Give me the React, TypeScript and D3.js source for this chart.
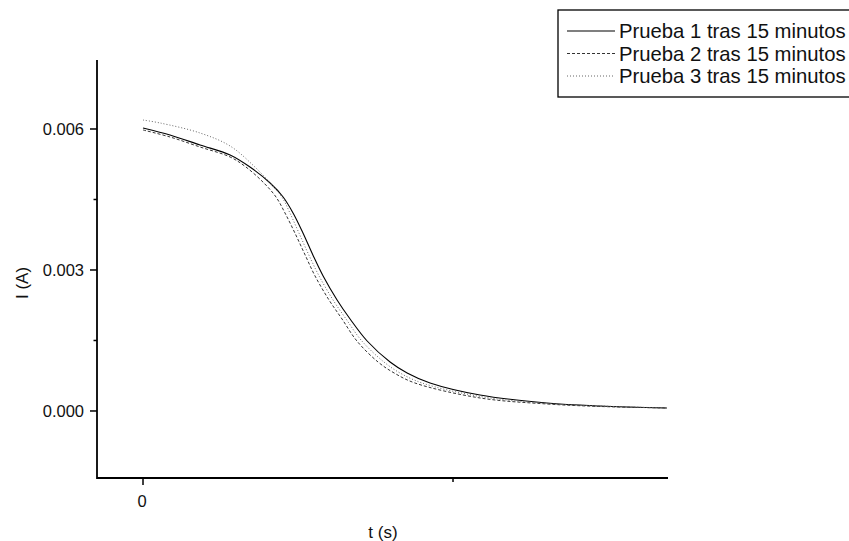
import * as d3 from 'd3';

// ---------------------------------------------------------------------------
// Data
// ---------------------------------------------------------------------------

const T_1 = [0, 8.7, 18.4, 28.1, 34.5, 41, 45.2, 48.4, 51.6, 54.8, 58.1, 62.6, 66.8, 72.3, 79.7, 85.2, 92.6, 108.7, 130.3, 147.4, 169];
const PRUEBA_1 = [
  0.006021, 0.005872, 0.00566, 0.005447, 0.005191, 0.004851, 0.004553, 0.004213, 0.003787, 0.003319,
  0.002872, 0.002362, 0.001957, 0.001489, 0.001043, 0.000809, 0.000596, 0.00034, 0.00017, 0.000106, 0.000064,
];

const T_2 = [0, 8.7, 18.4, 28.1, 33.2, 39, 42.9, 45.8, 49, 52.3, 55.5, 60, 64.2, 69, 75.8, 81, 87.7, 108.7, 130.3, 147.4, 169];
const PRUEBA_2 = [
  0.005979, 0.00583, 0.005617, 0.005404, 0.005191, 0.004851, 0.004553, 0.004213, 0.003787, 0.003319,
  0.002872, 0.002362, 0.001957, 0.001489, 0.001043, 0.000809, 0.000596, 0.000277, 0.000149, 0.000096, 0.000064,
];

const T_3 = [0, 5.5, 18.4, 28.1, 36.1, 41, 44.8, 47.4, 50.3, 53.5, 56.8, 61.3, 65.5, 70.6, 77.7, 82.9, 90, 108.7, 130.3, 147.4, 169];
const PRUEBA_3 = [
  0.006191, 0.006128, 0.005915, 0.005638, 0.005191, 0.004851, 0.004553, 0.004213, 0.003787, 0.003319,
  0.002872, 0.002362, 0.001957, 0.001489, 0.001043, 0.000809, 0.000596, 0.000309, 0.00016, 0.000106, 0.000064,
];

const SERIES_NAMES = ['Prueba 1 tras 15 minutos', 'Prueba 2 tras 15 minutos', 'Prueba 3 tras 15 minutos'];
const Y_TICKS = [0, 0.003, 0.006];
const Y_MINOR = [0.0015, 0.0045];
const X_TICKS = [0];
const X_MINOR = [100];

// ---------------------------------------------------------------------------
// Layout
// ---------------------------------------------------------------------------

const W = 849;
const H = 541;
const FONT = 'Arial, "Liberation Sans", sans-serif';
const STYLES = [
  { dash: 'none', color: '#000', width: 1.1 },
  { dash: '3,2', color: '#333', width: 1 },
  { dash: '1,2', color: '#666', width: 1 },
];

export default function App() {
  const x = d3.scaleLinear().domain([-14.84, 169.35]).range([97, 668]);
  const y = d3.scaleLinear().domain([-0.001426, 0.007468]).range([478, 60]);

  const series = [
    { t: T_1, v: PRUEBA_1 },
    { t: T_2, v: PRUEBA_2 },
    { t: T_3, v: PRUEBA_3 },
  ];

  const path = (t: number[], v: number[]) =>
    d3
      .line<number>()
      .x((_d, i) => x(t[i]))
      .y((d) => y(d))
      .curve(d3.curveCatmullRom.alpha(0.5))(v) ?? '';

  return (
    <svg
      width={W}
      height={H}
      style={{ position: 'absolute', left: 0, top: 0, background: '#fff' }}
      fontFamily={FONT}
    >
      {/* curves */}
      {series.map((s, i) => (
        <path
          key={i}
          d={path(s.t, s.v)}
          fill="none"
          stroke={STYLES[i].color}
          strokeWidth={STYLES[i].width}
          strokeDasharray={STYLES[i].dash}
        />
      ))}

      {/* axes */}
      <line x1={x.range()[0]} x2={x.range()[0]} y1={y.range()[1]} y2={y.range()[0] + 1} stroke="#000" strokeWidth={1.8} />
      <line x1={x.range()[0]} x2={x.range()[1]} y1={y.range()[0]} y2={y.range()[0]} stroke="#000" strokeWidth={1.8} />

      {Y_TICKS.map((t) => (
        <g key={t}>
          <line x1={90} x2={97} y1={y(t)} y2={y(t)} stroke="#000" strokeWidth={1.5} />
          <text x={84} y={y(t)} dy="0.35em" textAnchor="end" fontSize={16.5} fill="#111">
            {d3.format('.3f')(t)}
          </text>
        </g>
      ))}
      {Y_MINOR.map((t) => (
        <line key={t} x1={93.5} x2={97} y1={y(t)} y2={y(t)} stroke="#000" strokeWidth={1.5} />
      ))}

      {X_TICKS.map((t) => (
        <g key={t}>
          <line x1={x(t)} x2={x(t)} y1={478} y2={485} stroke="#000" strokeWidth={1.5} />
          <text x={x(t) - 1} y={501} dy="0.35em" textAnchor="middle" fontSize={16.5} fill="#111">
            {t}
          </text>
        </g>
      ))}
      {X_MINOR.map((t) => (
        <line key={t} x1={x(t)} x2={x(t)} y1={478} y2={482} stroke="#000" strokeWidth={1.5} />
      ))}

      {/* axis titles */}
      <text x={383} y={532} dy="0.35em" textAnchor="middle" fontSize={17} fill="#111">
        t (s)
      </text>
      <text
        transform={`translate(22,283) rotate(-90)`}
        dy="0.35em"
        textAnchor="middle"
        fontSize={17}
        fill="#111"
      >
        I (A)
      </text>

      {/* legend */}
      <rect x={558} y={10} width={300} height={87} fill="#fff" stroke="#000" strokeWidth={1.3} />
      {SERIES_NAMES.map((name, i) => {
        const ly = 31 + i * 22.5;
        return (
          <g key={name}>
            <line
              x1={567}
              x2={615}
              y1={ly}
              y2={ly}
              stroke={STYLES[i].color}
              strokeWidth={STYLES[i].width}
              strokeDasharray={STYLES[i].dash}
            />
            <text x={619} y={ly} dy="0.35em" fontSize={20.3} fill="#111">
              {name}
            </text>
          </g>
        );
      })}
    </svg>
  );
}
